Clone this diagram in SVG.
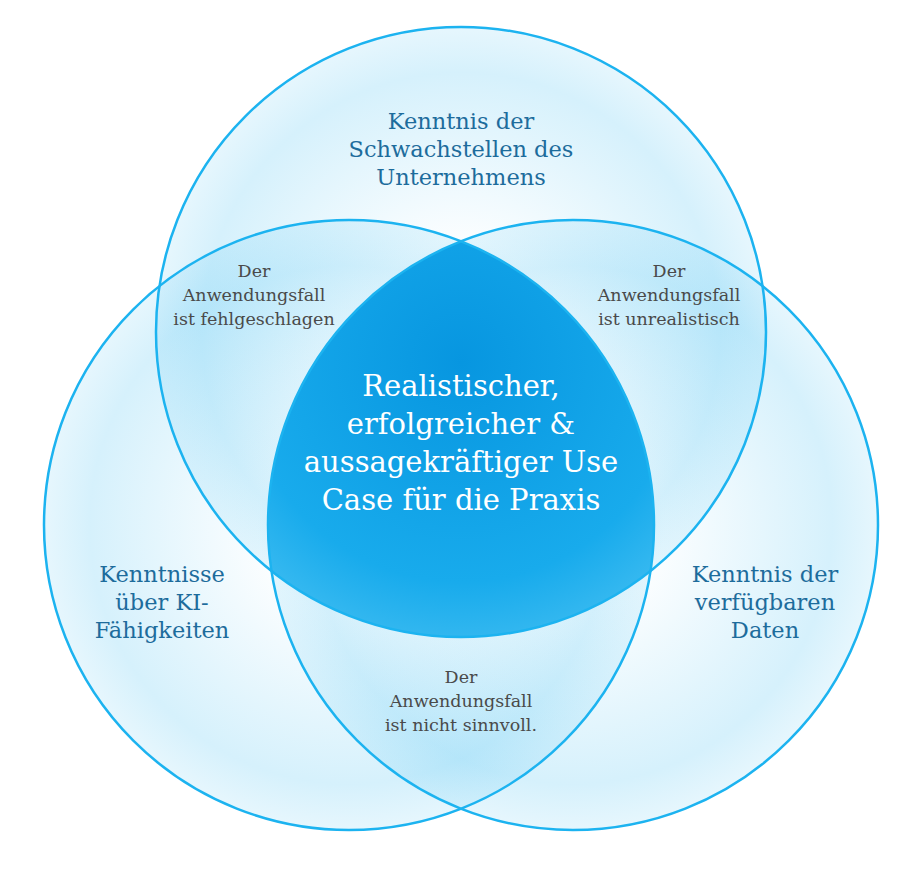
<svg xmlns="http://www.w3.org/2000/svg" width="918" height="871" viewBox="0 0 918 871">
<style>
.c{stroke:#1cb3f0;stroke-width:2.5;fill:none}
.o{font-family:"DejaVu Serif","Liberation Serif",serif;font-size:22.5px;fill:#1d6c9c;text-anchor:middle}
.p{font-family:"DejaVu Serif","Liberation Serif",serif;font-size:17.5px;fill:#4a4a4a;text-anchor:middle}
.m{font-family:"DejaVu Serif","Liberation Serif",serif;font-size:29px;fill:#fff;text-anchor:middle}
</style>
<defs>
<radialGradient id="g"><stop offset="0.3" stop-color="#30b8f0" stop-opacity="0.02"/><stop offset="0.85" stop-color="#30b8f0" stop-opacity="0.2"/><stop offset="1" stop-color="#30b8f0" stop-opacity="0.12"/></radialGradient>
<radialGradient id="gc" cx="0.5" cy="0.55" r="0.6"><stop offset="0" stop-color="#0796e0"/><stop offset="0.6" stop-color="#18abec"/><stop offset="1" stop-color="#5ccaf5"/></radialGradient>
<clipPath id="cl"><circle cx="349" cy="525" r="305"/></clipPath>
<clipPath id="cr"><circle cx="573" cy="525" r="305"/></clipPath>
</defs>
<rect width="918" height="871" fill="#fff"/>
<g id="fills">
<circle cx="461" cy="332" r="305" fill="url(#g)"/>
<circle cx="349" cy="525" r="305" fill="url(#g)"/>
<circle cx="573" cy="525" r="305" fill="url(#g)"/>
<g clip-path="url(#cl)"><circle cx="461" cy="332" r="305" fill="url(#gc)" clip-path="url(#cr)"/></g>
</g>
<g id="top"><circle class="c" cx="461" cy="332" r="305"/>
<text class="o" x="461" y="129">Kenntnis der</text><text class="o" x="461" y="157">Schwachstellen des</text><text class="o" x="461" y="185">Unternehmens</text></g>
<g id="left"><circle class="c" cx="349" cy="525" r="305"/>
<text class="o" x="162" y="582">Kenntnisse</text><text class="o" x="162" y="610">über KI-</text><text class="o" x="162" y="638">Fähigkeiten</text></g>
<g id="right"><circle class="c" cx="573" cy="525" r="305"/>
<text class="o" x="765" y="582">Kenntnis der</text><text class="o" x="765" y="610">verfügbaren</text><text class="o" x="765" y="638">Daten</text></g>
<g id="tl"><text class="p" x="254" y="277">Der</text><text class="p" x="254" y="301">Anwendungsfall</text><text class="p" x="254" y="325">ist fehlgeschlagen</text></g>
<g id="tr"><text class="p" x="669" y="277">Der</text><text class="p" x="669" y="301">Anwendungsfall</text><text class="p" x="669" y="325">ist unrealistisch</text></g>
<g id="bt"><text class="p" x="461" y="683">Der</text><text class="p" x="461" y="707">Anwendungsfall</text><text class="p" x="461" y="731">ist nicht sinnvoll.</text></g>
<g id="center"><text class="m" x="461" y="396">Realistischer,</text><text class="m" x="461" y="434">erfolgreicher &amp;</text><text class="m" x="461" y="472">aussagekräftiger Use</text><text class="m" x="461" y="510">Case für die Praxis</text></g>
<g id="connectors"/>
</svg>
